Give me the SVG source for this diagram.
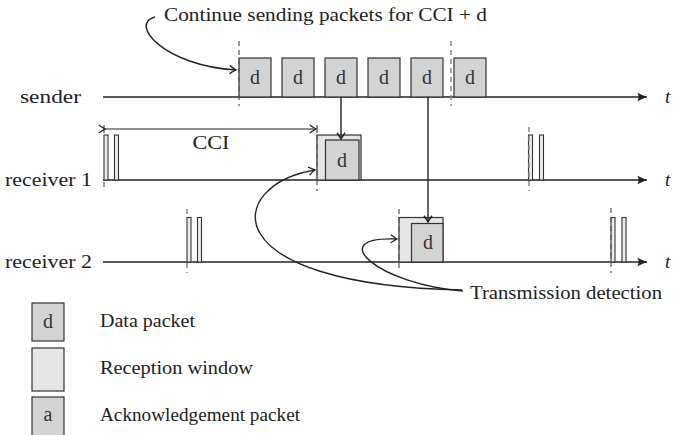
<svg xmlns="http://www.w3.org/2000/svg" width="673" height="435" viewBox="0 0 673 435" font-family="'Liberation Serif', 'Times New Roman', 'DejaVu Serif', serif">
  <defs>
    <marker id="head" markerWidth="10" markerHeight="10" refX="0" refY="0" viewBox="-6 -4 7 8" orient="auto" markerUnits="userSpaceOnUse">
      <path d="M -5 -3.2 Q -1.5 -0.8 0 0 Q -1.5 0.8 -5 3.2" fill="none" stroke="#222" stroke-width="1.1"/>
    </marker>
    <marker id="axishead" markerWidth="12" markerHeight="10" refX="0" refY="0" viewBox="-9 -4 10 8" orient="auto" markerUnits="userSpaceOnUse">
      <path d="M -8 -3.5 Q -3 -1 0 0 Q -3 1 -8 3.5 Q -6 0 -8 -3.5 Z" fill="#222"/>
    </marker>
  </defs>
  <style>
    text { font-family: 'Liberation Serif', 'Times New Roman', 'DejaVu Serif', serif; }
    .lbl { font-size: 18px; fill: #222; }
    .pk  { font-size: 20px; fill: #333; text-anchor: middle; }
    .t   { font-style: italic; font-size: 19px; fill: #222; }
    .axis { stroke: #222; stroke-width: 1.5; fill: none; }
    .data { fill: #d3d3d3; stroke: #333; stroke-width: 1.2; }
    .win  { fill: #e6e6e6; stroke: #333; stroke-width: 1.2; }
    .ack  { fill: #ececec; stroke: #333; stroke-width: 1.1; }
    .dash { stroke: #555; stroke-width: 1.2; stroke-dasharray: 5 4; fill: none; }
    .dashg { stroke: #888; stroke-width: 1.5; stroke-dasharray: 5 4; fill: none; }
    .conn { stroke: #222; stroke-width: 1.4; fill: none; }
  </style>

  <!-- time axes -->
  <g id="axes">
    <line class="axis" x1="103" y1="97" x2="647" y2="97" marker-end="url(#axishead)"/>
    <line class="axis" x1="103" y1="180" x2="647" y2="180" marker-end="url(#axishead)"/>
    <line class="axis" x1="103" y1="262" x2="647" y2="262" marker-end="url(#axishead)"/>
    <text class="lbl" x="20" y="103" textLength="61" lengthAdjust="spacingAndGlyphs">sender</text>
    <text class="lbl" x="5" y="186" textLength="87" lengthAdjust="spacingAndGlyphs">receiver 1</text>
    <text class="lbl" x="5" y="268" textLength="87" lengthAdjust="spacingAndGlyphs">receiver 2</text>
    <text class="t" x="665" y="103">t</text>
    <text class="t" x="665" y="186">t</text>
    <text class="t" x="665" y="268">t</text>
  </g>

  <!-- sender packets -->
  <g id="sender">
    <rect class="data" x="239" y="58" width="32" height="39"/>
    <rect class="data" x="282" y="58" width="32" height="39"/>
    <rect class="data" x="325" y="58" width="32" height="39"/>
    <rect class="data" x="368" y="58" width="32" height="39"/>
    <rect class="data" x="411" y="58" width="32" height="39"/>
    <rect class="data" x="454" y="58" width="32" height="39"/>
    <text class="pk" x="255" y="84">d</text>
    <text class="pk" x="298" y="84">d</text>
    <text class="pk" x="341" y="84">d</text>
    <text class="pk" x="384" y="84">d</text>
    <text class="pk" x="427" y="84">d</text>
    <text class="pk" x="470" y="84">d</text>
    <line class="dash" x1="239" y1="41" x2="239" y2="106"/>
    <line class="dashg" x1="451" y1="41" x2="451" y2="106"/>
  </g>

  <!-- receiver 1 -->
  <g id="receiver1">
    <rect class="ack" x="104" y="135" width="4" height="45"/>
    <rect class="ack" x="114.5" y="135" width="4" height="45"/>
    <line class="dash" x1="104" y1="182" x2="104" y2="191"/>
    <rect class="win" x="317" y="135" width="44" height="45"/>
    <rect class="data" x="325.5" y="140" width="33.5" height="40"/>
    <text class="pk" x="342" y="167">d</text>
    <line class="dash" x1="317" y1="135" x2="317" y2="191"/>
    <rect class="ack" x="528.5" y="135" width="4" height="45"/>
    <rect class="ack" x="539.5" y="135" width="4" height="45"/>
    <line class="dashg" x1="529" y1="127" x2="529" y2="191"/>
    <line stroke="#222" stroke-width="1" x1="105" y1="129" x2="316" y2="129" marker-start="url(#head)" marker-end="url(#head)"/>
    <line stroke="#222" stroke-width="1" x1="104" y1="125" x2="104" y2="133"/>
    <line stroke="#222" stroke-width="1" x1="317" y1="125" x2="317" y2="133"/>
    <text class="lbl" x="211" y="149" text-anchor="middle" textLength="37" lengthAdjust="spacingAndGlyphs">CCI</text>
  </g>

  <!-- receiver 2 -->
  <g id="receiver2">
    <rect class="ack" x="187" y="217.5" width="4" height="44.5"/>
    <rect class="ack" x="197.5" y="217.5" width="4" height="44.5"/>
    <line class="dashg" x1="187" y1="209" x2="187" y2="273"/>
    <rect class="win" x="399" y="217.5" width="44" height="44.5"/>
    <rect class="data" x="411.5" y="223.5" width="31.5" height="38.5"/>
    <text class="pk" x="428" y="249">d</text>
    <line class="dash" x1="399" y1="209" x2="399" y2="272"/>
    <rect class="ack" x="611" y="217.5" width="4" height="44.5"/>
    <rect class="ack" x="622" y="217.5" width="4" height="44.5"/>
    <line class="dash" x1="611" y1="208" x2="611" y2="273"/>
  </g>

  <!-- annotations -->
  <g id="notes">
    <text class="lbl" x="164" y="21" textLength="323" lengthAdjust="spacingAndGlyphs">Continue sending packets for CCI + d</text>
    <text class="lbl" x="470" y="299" textLength="192" lengthAdjust="spacingAndGlyphs">Transmission detection</text>
  </g>

  <!-- connectors -->
  <g id="connectors">
    <path class="conn" d="M 155 17 C 128 24, 165 66, 236 70" marker-end="url(#head)"/>
    <line class="conn" x1="341" y1="97" x2="341" y2="139" marker-end="url(#head)"/>
    <line class="conn" x1="428" y1="97" x2="428" y2="222" marker-end="url(#head)"/>
    <path class="conn" d="M 462 290 C 210 285, 225 185, 315 170" marker-end="url(#head)"/>
    <path class="conn" d="M 463 291 C 380 285, 322 236, 397 239" marker-end="url(#head)"/>
  </g>

  <!-- legend -->
  <g id="legend">
    <rect class="data" x="32" y="303" width="32" height="38"/>
    <text class="pk" x="48" y="328">d</text>
    <text class="lbl" x="100" y="327" textLength="95" lengthAdjust="spacingAndGlyphs">Data packet</text>
    <rect class="win" x="32" y="348" width="32" height="43"/>
    <text class="lbl" x="100" y="374" textLength="153" lengthAdjust="spacingAndGlyphs">Reception window</text>
    <rect class="data" x="32" y="397" width="32" height="40"/>
    <text class="pk" x="48" y="421">a</text>
    <text class="lbl" x="100" y="421" textLength="200" lengthAdjust="spacingAndGlyphs">Acknowledgement packet</text>
  </g>
</svg>
